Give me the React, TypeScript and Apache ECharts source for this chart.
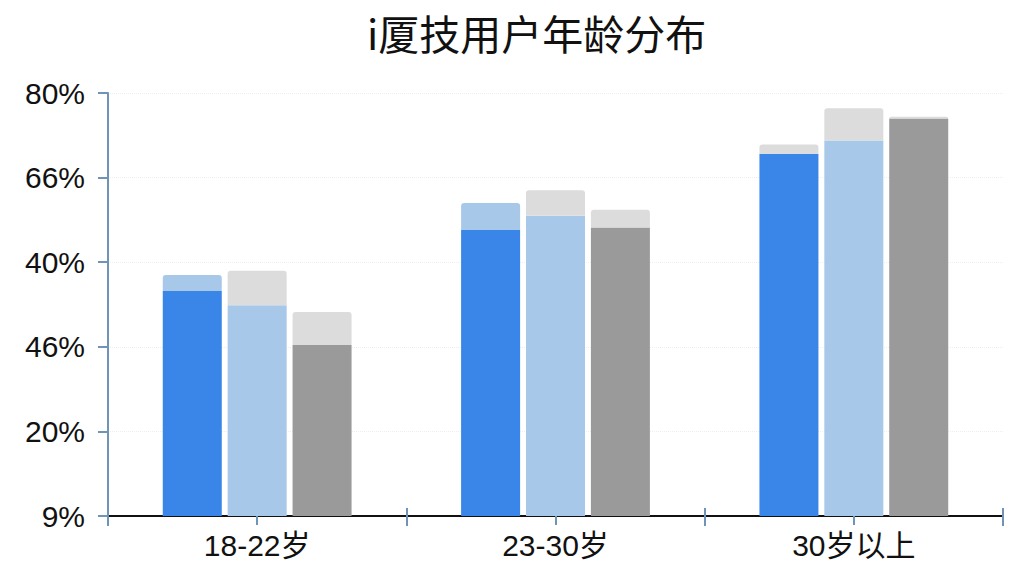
import * as echarts from 'echarts';
import { useEffect, useRef } from 'react';

const categories = ['18-22岁', '23-30岁', '30岁以上'];
const yTickLabels = ['9%', '20%', '46%', '40%', '66%', '80%'];

// 主体 + 顶部浅色部分
const blueBase = [2.66, 3.38, 4.28];
const blueCap = [0.19, 0.32, 0.11];
const lightBase = [2.49, 3.55, 4.44];
const lightCap = [0.41, 0.3, 0.38];
const grayBase = [2.02, 3.41, 4.7];
const grayCap = [0.39, 0.21, 0.02];

const FONT = "'Liberation Sans', 'Noto Sans CJK SC', sans-serif";
const BLUE = '#3a86e8';
const LIGHT_BLUE = '#a8c8ea';
const GRAY = '#9a9a9a';
const LIGHT_GRAY = '#dcdcdc';
const AXIS_BLUE = '#7093b8';

export default function App() {
  const chartRef = useRef<HTMLDivElement>(null);

  useEffect(() => {
    if (!chartRef.current) return;
    const chart = echarts.init(chartRef.current, null, { renderer: 'svg' });

    const capStyle = (color: any) => ({
      color,
      borderRadius: [3, 3, 0, 0],
    });

    chart.setOption({
      animation: false,
      backgroundColor: '#ffffff',
      title: {
        text: 'i厦技用户年龄分布',
        left: 362,
        top: 6,
        textStyle: {
          fontFamily: "'Noto Sans CJK SC', sans-serif",
          fontSize: 41,
          fontWeight: 'normal',
          color: '#111',
        },
      },
      grid: { left: 108, right: 21, top: 93, bottom: 60 },
      xAxis: [
        {
          type: 'category',
          data: categories,
          position: 'bottom',
          axisLine: { lineStyle: { color: '#111', width: 2 } },
          axisTick: { show: true, length: 10, lineStyle: { color: AXIS_BLUE, width: 2 } },
          axisLabel: { fontFamily: FONT, fontSize: 30, color: '#111', margin: 14 },
        },
        {
          type: 'category',
          data: categories,
          position: 'bottom',
          axisLine: { show: false },
          axisTick: { show: true, alignWithLabel: true, length: 9, lineStyle: { color: AXIS_BLUE, width: 2 } },
          axisLabel: { show: false },
        },
        {
          type: 'category',
          data: categories,
          position: 'bottom',
          axisLine: { show: false },
          axisTick: { show: true, inside: true, length: 8, lineStyle: { color: AXIS_BLUE, width: 2 } },
          axisLabel: { show: false },
        },
      ],
      yAxis: {
        type: 'value',
        min: 0,
        max: 5,
        interval: 1,
        axisLine: { show: true, lineStyle: { color: AXIS_BLUE, width: 2 } },
        axisTick: { show: true, length: 10, lineStyle: { color: AXIS_BLUE, width: 2 } },
        axisLabel: {
          fontFamily: FONT,
          fontSize: 30,
          color: '#111',
          margin: 23,
          formatter: (v: number) => yTickLabels[Math.round(v)] ?? '',
        },
        splitLine: { lineStyle: { color: '#f0f0ea', type: 'dotted' } },
      },
      series: [
        {
          type: 'bar',
          stack: 'blue',
          data: blueBase,
          barWidth: 59,
          barGap: '10%',
          itemStyle: { color: BLUE },
        },
        {
          type: 'bar',
          stack: 'blue',
          data: blueCap,
          barWidth: 59,
          barGap: '10%',
          itemStyle: capStyle((p: any) => (p.dataIndex < 2 ? LIGHT_BLUE : LIGHT_GRAY)),
        },
        {
          type: 'bar',
          stack: 'light',
          data: lightBase,
          barWidth: 59,
          barGap: '10%',
          itemStyle: { color: LIGHT_BLUE },
        },
        {
          type: 'bar',
          stack: 'light',
          data: lightCap,
          barWidth: 59,
          barGap: '10%',
          itemStyle: capStyle(LIGHT_GRAY),
        },
        {
          type: 'bar',
          stack: 'gray',
          data: grayBase,
          barWidth: 59,
          barGap: '10%',
          itemStyle: { color: GRAY },
        },
        {
          type: 'bar',
          stack: 'gray',
          data: grayCap,
          barWidth: 59,
          barGap: '10%',
          itemStyle: capStyle(LIGHT_GRAY),
        },
      ],
    });

    const handleResize = () => chart.resize();
    window.addEventListener('resize', handleResize);

    return () => {
      window.removeEventListener('resize', handleResize);
      chart.dispose();
    };
  }, []);

  return (
    <div
      ref={chartRef}
      style={{ position: 'fixed', left: 0, top: 0, width: '1024px', height: '576px', background: '#fff' }}
    />
  );
}
